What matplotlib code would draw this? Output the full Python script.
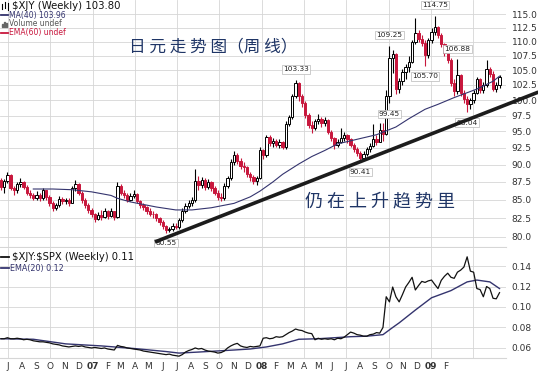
import matplotlib
matplotlib.use("Agg")
import matplotlib.pyplot as plt
import matplotlib.dates as mdates
from matplotlib.lines import Line2D
from matplotlib.patches import Rectangle
from matplotlib.ticker import FixedLocator, FixedFormatter, NullLocator
import numpy as np
import pandas as pd

# weekly $XJY bars, first bar ends on this Friday
first_week = "2006-06-16"
first_open = 87.8
closes = [
    86.8, 87.6, 88.5, 86.6, 86.4, 87.2, 87.5, 86.8, 86.0, 85.6,
    85.3, 85.6, 85.2, 86.3, 85.4, 84.6, 83.9, 84.3, 85.1, 84.8,
    85.0, 84.6, 86.6, 87.2, 86.0, 85.0, 84.3, 83.6, 83.0, 82.4,
    82.9, 82.7, 83.5, 82.8, 83.4, 82.6, 86.9, 86.0, 85.7, 85.0,
    85.5, 85.8, 84.8, 84.3, 84.0, 83.5, 83.1, 83.0, 82.5, 82.0,
    81.4, 80.9, 81.0, 81.5, 81.3, 82.2, 83.5, 84.2, 84.6, 85.0,
    87.6, 87.0, 87.8, 86.8, 87.5, 86.6, 86.0, 85.4, 85.2, 86.9,
    88.0, 90.4, 91.5, 90.6, 89.8, 89.6, 88.6, 88.2, 87.6, 88.0,
    92.2, 91.4, 94.2, 93.2, 93.6, 93.0, 93.4, 92.7, 96.2, 97.2,
    100.6, 102.8, 100.6, 99.5, 97.6, 96.0, 95.6, 96.6, 97.0, 96.3,
    96.8, 94.9, 94.0, 92.9, 93.4, 94.0, 94.4, 93.8, 93.0, 92.4,
    91.8, 91.0, 91.6, 92.3, 92.8, 93.9, 93.4, 95.3, 94.6, 100.6,
    107.0, 107.8, 101.8, 103.2, 104.6, 105.6, 106.4, 109.9, 111.5, 110.4,
    109.8, 107.6, 110.2, 111.8, 112.6, 111.2, 109.6, 108.0, 106.8, 102.8,
    101.4, 104.2, 101.2, 100.2, 99.4, 100.0, 101.2, 103.4, 101.6, 102.4,
    105.2, 104.4, 101.8, 102.4, 103.8,
]
highs = [
    88.0, 87.9, 89.0, 88.6, 86.9, 87.5, 88.1, 87.6, 87.0, 86.4,
    85.9, 86.2, 85.9, 86.7, 86.4, 85.6, 84.8, 84.6, 85.5, 85.4,
    85.3, 85.2, 86.9, 87.8, 87.3, 86.2, 85.2, 84.5, 83.9, 83.2,
    83.3, 83.6, 83.9, 83.6, 83.8, 83.5, 87.5, 87.2, 86.4, 85.9,
    85.9, 86.3, 85.9, 85.0, 84.6, 84.2, 83.8, 83.4, 83.2, 82.7,
    82.2, 81.6, 81.3, 81.8, 81.9, 82.5, 83.8, 84.6, 85.0, 85.4,
    89.3, 88.3, 88.2, 88.0, 87.9, 87.6, 86.9, 86.3, 85.9, 87.3,
    88.4, 90.8, 92.0, 91.8, 91.0, 90.4, 89.8, 89.0, 88.5, 88.3,
    92.6, 92.4, 94.5, 94.4, 94.0, 93.9, 93.8, 93.6, 96.6, 97.6,
    101.0, 103.33, 102.9, 101.0, 99.8, 97.9, 96.6, 97.0, 97.8, 97.3,
    97.2, 96.9, 95.2, 94.2, 93.8, 95.5, 94.9, 94.6, 94.0, 93.2,
    92.6, 92.0, 92.0, 92.7, 93.3, 96.2, 94.4, 96.3, 96.4, 101.6,
    109.25, 108.5, 108.0, 103.6, 105.2, 106.0, 107.5, 110.2, 114.3, 112.0,
    111.2, 110.2, 110.6, 112.4, 114.75, 112.8, 111.5, 109.8, 108.2, 107.0,
    103.4, 106.88, 104.4, 101.6, 100.6, 100.4, 101.6, 103.8, 103.6, 102.9,
    106.7, 105.5, 104.8, 102.9, 104.2,
]
lows = [
    86.3, 86.0, 87.3, 86.3, 85.6, 85.9, 86.8, 86.5, 85.6, 85.2,
    84.9, 85.0, 84.8, 84.9, 85.0, 84.2, 83.5, 83.6, 84.0, 84.4,
    84.4, 84.2, 84.5, 86.2, 85.7, 84.6, 83.9, 83.2, 82.6, 82.0,
    82.2, 82.3, 82.5, 82.4, 82.6, 82.2, 82.5, 85.6, 85.2, 84.7,
    84.8, 85.2, 84.5, 83.9, 83.6, 83.1, 82.8, 82.5, 82.1, 81.6,
    81.0, 80.55, 80.6, 80.8, 81.0, 81.1, 82.0, 83.2, 83.8, 84.2,
    84.7, 86.4, 86.6, 86.4, 86.5, 86.2, 85.6, 85.0, 84.8, 85.0,
    86.6, 87.8, 90.0, 90.1, 89.3, 88.9, 88.2, 87.7, 87.2, 87.1,
    87.9, 90.9, 91.2, 92.8, 92.7, 92.6, 92.5, 92.3, 92.4, 95.8,
    97.0, 100.3, 99.8, 98.9, 97.1, 95.5, 94.8, 95.2, 96.2, 95.7,
    95.9, 94.6, 93.5, 92.4, 92.6, 93.2, 93.6, 93.3, 92.6, 91.9,
    91.3, 90.41, 90.8, 91.3, 91.9, 92.6, 93.0, 93.4, 93.6, 94.4,
    99.45, 104.5, 101.0, 101.2, 102.5, 103.5, 104.6, 106.2, 109.5, 110.0,
    109.2, 105.70, 107.0, 109.8, 111.2, 110.6, 109.0, 107.4, 106.2, 102.3,
    100.6, 101.0, 100.6, 99.5, 98.04, 98.6, 99.5, 101.0, 101.2, 101.2,
    102.2, 103.8, 101.4, 101.3, 102.0,
]

# 40 week moving average, read at these bars
ma40_bars = [10, 16, 22, 28, 34, 36, 40, 48, 54, 59, 65, 72, 77, 80, 84, 87, 92,
             96, 100, 104, 110, 116, 122, 126, 131, 135, 140, 147, 152, 154]
ma40 = [86.5, 86.5, 86.4, 86.1, 85.6, 85.2, 84.7, 84.0, 83.6, 83.6, 83.9, 84.5,
        85.4, 86.2, 87.5, 88.6, 90.1, 91.2, 92.1, 93.1, 93.8, 94.5, 95.7, 97.0,
        98.5, 99.3, 100.4, 101.8, 103.1, 103.96]

# $XJY:$SPX weekly ratio
ratio = [
    0.069, 0.069, 0.070, 0.069, 0.069, 0.0695, 0.069, 0.068, 0.0685, 0.068,
    0.067, 0.0665, 0.066, 0.066, 0.0655, 0.065, 0.064, 0.0635, 0.063, 0.062,
    0.0615, 0.061, 0.0615, 0.062, 0.0615, 0.062, 0.061, 0.0605, 0.060, 0.0605,
    0.060, 0.0595, 0.060, 0.059, 0.0585, 0.058, 0.0625, 0.0615, 0.061, 0.060,
    0.0595, 0.059, 0.0585, 0.058, 0.057, 0.0565, 0.056, 0.0555, 0.055, 0.0545,
    0.054, 0.0535, 0.054, 0.053, 0.0525, 0.052, 0.0535, 0.056, 0.0575, 0.0585,
    0.060, 0.059, 0.0595, 0.058, 0.057, 0.0565, 0.056, 0.055, 0.0555, 0.057,
    0.060, 0.062, 0.0635, 0.0645, 0.062, 0.061, 0.0605, 0.0615, 0.061, 0.0615,
    0.062, 0.0695, 0.070, 0.069, 0.0695, 0.071, 0.0705, 0.071, 0.073, 0.075,
    0.0765, 0.0785, 0.0775, 0.077, 0.0755, 0.0745, 0.074, 0.068, 0.0695, 0.0685,
    0.069, 0.0685, 0.069, 0.068, 0.0695, 0.069, 0.0705, 0.073, 0.0755, 0.0745,
    0.073, 0.0725, 0.0715, 0.0715, 0.073, 0.0735, 0.075, 0.0745, 0.080, 0.110,
    0.105, 0.1195, 0.110, 0.105, 0.112, 0.1195, 0.124, 0.129, 0.1166, 0.121,
    0.125, 0.124, 0.1255, 0.1263, 0.122, 0.118, 0.126, 0.130, 0.133, 0.129,
    0.128, 0.134, 0.136, 0.139, 0.149, 0.135, 0.134, 0.118, 0.117, 0.110,
    0.120, 0.118, 0.1085, 0.108, 0.114,
]
ema20_bars = [0, 10, 20, 31, 41, 51, 55, 61, 72, 77, 82, 87, 92, 98, 108, 113,
              118, 121, 123, 128, 133, 139, 144, 147, 151, 154]
ema20 = [0.069, 0.0685, 0.064, 0.062, 0.0595, 0.0565, 0.055, 0.056, 0.058, 0.059,
         0.061, 0.064, 0.0685, 0.069, 0.071, 0.0715, 0.073, 0.080, 0.0845, 0.097,
         0.109, 0.116, 0.1245, 0.1263, 0.1245, 0.118]

# annotated swing points
swing_bars = [51, 91, 111, 120, 120, 131, 134, 141, 144]
swing_kinds = ["low", "high", "low", "high", "low", "low", "high", "high", "low"]

# hand drawn support line
trend_dates = ["2007-05-15", "2009-08-21"]
trend_prices = [79.35, 101.3]

price_ticks = [80.0, 82.5, 85.0, 87.5, 90.0, 92.5, 95.0, 97.5, 100.0,
               102.5, 105.0, 107.5, 110.0, 112.5, 115.0]
ratio_ticks = [0.06, 0.08, 0.10, 0.12, 0.14]
month_labels = ["J", "A", "S", "O", "N", "D",
                "07", "F", "M", "A", "M", "J", "J", "A", "S", "O", "N", "D",
                "08", "F", "M", "A", "M", "J", "J", "A", "S", "O", "N", "D",
                "09", "F"]

plt.rcParams["font.family"] = ["DejaVu Sans", "Noto Sans CJK SC"]

W, H = 538, 374
red = "#c8173d"
navy = "#34346e"
grid_c = "#d6d6d6"
txt_c = "#333333"

fig = plt.figure(figsize=(W / 100, H / 100), dpi=100)


def px_box(x0, y0, x1, y1):
    return [x0 / W, 1 - y1 / H, (x1 - x0) / W, (y1 - y0) / H]


def fx(x):
    return x / W


def fy(y):
    return 1 - y / H


ax = fig.add_axes(px_box(0, 0, 506, 247))
ax2 = fig.add_axes(px_box(0, 248, 506, 358))

dates = pd.date_range(first_week, periods=len(closes), freq="7D")
xs = mdates.date2num(dates.to_pydatetime())
opens = np.array([first_open] + closes[:-1])
c = np.array(closes)
up = c >= opens
x_lo = mdates.date2num(pd.Timestamp("2006-06-14"))
x_hi = mdates.date2num(pd.Timestamp("2009-06-12"))

# ---- price panel
ax.set_yscale("log")
ax.vlines(xs, lows, highs, colors=np.where(up, "black", red), lw=0.8, zorder=3)
ax.bar(xs, np.abs(c - opens), bottom=np.minimum(c, opens), width=5.0,
       color=np.where(up, "white", red), edgecolor=np.where(up, "black", red),
       lw=0.7, zorder=4)
ax.plot(xs[ma40_bars], ma40, color=navy, lw=0.8, zorder=5)

for i, kind in zip(swing_bars, swing_kinds):
    val = highs[i] if kind == "high" else lows[i]
    dy = 7.5 if kind == "high" else -7.5
    ax.annotate(f"{val:.2f}", (xs[i], val), xytext=(0, dy), textcoords="offset points",
                ha="center", va="center", fontsize=5.3, color="#222222",
                bbox=dict(boxstyle="square,pad=0.15", fc="white", ec="#b8b8b8", lw=0.5),
                zorder=6, annotation_clip=False)

tx = mdates.date2num(pd.to_datetime(trend_dates).to_pydatetime())
ax.plot(tx, trend_prices, color="#1c1c1c", lw=2.6, solid_capstyle="butt",
        clip_on=False, zorder=7)

ax.set_xlim(x_lo, x_hi)
ax.set_ylim(78.7, 117.7)
ax.yaxis.tick_right()
ax.yaxis.set_major_locator(FixedLocator(price_ticks))
ax.yaxis.set_major_formatter(FixedFormatter([f"{t:.1f}" for t in price_ticks]))
ax.yaxis.set_minor_locator(NullLocator())
ax.tick_params(axis="y", length=0, pad=4, labelsize=6.5, labelcolor=txt_c)
ax.set_xticks([])
ax.grid(axis="y", color=grid_c, lw=0.6, zorder=0)

# ---- ratio panel
ax2.plot(xs, ratio, color="#111111", lw=0.9, zorder=4)
ax2.plot(xs[ema20_bars], ema20, color=navy, lw=1.0, zorder=3)
ax2.set_xlim(x_lo, x_hi)
ax2.set_ylim(0.0502, 0.1576)
ax2.yaxis.tick_right()
ax2.set_yticks(ratio_ticks)
ax2.set_yticklabels([f"{t:.2f}" for t in ratio_ticks])
ax2.tick_params(axis="y", length=0, pad=4, labelsize=6.5, labelcolor=txt_c)
ax2.grid(axis="y", color=grid_c, lw=0.6, zorder=0)

months = pd.date_range("2006-07-01", "2009-06-01", freq="MS")
ax2.set_xticks(mdates.date2num(months.to_pydatetime()))
ax2.set_xticklabels(month_labels + [""] * (len(months) - len(month_labels)))
ax2.tick_params(axis="x", length=0, pad=3, labelsize=6.5, labelcolor=txt_c)
for lab in ax2.get_xticklabels():
    if lab.get_text().isdigit():
        lab.set_fontweight("bold")

quarters = pd.date_range("2006-07-01", "2009-04-01", freq="QS-JAN")
for a in (ax, ax2):
    for q in mdates.date2num(quarters.to_pydatetime()):
        a.axvline(q, color=grid_c, lw=0.6, zorder=0)
    for s in ("top", "left", "right"):
        a.spines[s].set_visible(False)
    a.spines["bottom"].set_color(grid_c)
    a.set_facecolor("white")

# ---- legends
fig.add_artist(Line2D([fx(2), fx(2)], [fy(4), fy(9)], color="black", lw=0.8, transform=fig.transFigure))
fig.add_artist(Line2D([fx(5), fx(5)], [fy(2), fy(8)], color="black", lw=0.8, transform=fig.transFigure))
fig.add_artist(Line2D([fx(8), fx(8)], [fy(3), fy(10)], color="black", lw=0.8, transform=fig.transFigure))
fig.text(fx(12), fy(6), rf"\$XJY (Weekly) {closes[-1]:.2f}", fontsize=7.3, color="#111111", va="center")

fig.add_artist(Line2D([fx(1), fx(8)], [fy(15), fy(15)], color=navy, lw=1.3, transform=fig.transFigure))
fig.text(fx(9), fy(15.5), f"MA(40) {ma40[-1]:.2f}", fontsize=5.5, color=navy, va="center")

for bx, bh in zip([1.5, 3.5, 5.5], [3, 5, 4]):
    fig.add_artist(Rectangle((fx(bx), fy(27)), 1.4 / W, bh / H, color="#666666",
                             transform=fig.transFigure))
fig.text(fx(9), fy(24), "Volume undef", fontsize=5.5, color="#555555", va="center")

fig.add_artist(Line2D([fx(1), fx(8)], [fy(33), fy(33)], color=red, lw=1.3, transform=fig.transFigure))
fig.text(fx(9), fy(33), "EMA(60) undef", fontsize=5.5, color=red, va="center")

fig.add_artist(Line2D([fx(1), fx(9)], [fy(257), fy(257)], color="#111111", lw=1.3, transform=fig.transFigure))
fig.text(fx(12), fy(257), rf"\$XJY:\$SPX (Weekly) {ratio[-1]:.2f}", fontsize=7.2, color="#111111", va="center")
fig.add_artist(Line2D([fx(1), fx(9)], [fy(268), fy(268)], color=navy, lw=1.3, transform=fig.transFigure))
fig.text(fx(10), fy(268), f"EMA(20) {ema20[-1]:.2f}", fontsize=5.8, color=navy, va="center")

# ---- chinese captions
fig.text(fx(213), fy(47), "日 元 走 势 图（周 线）", fontsize=12, color="#1f3566",
         ha="center", va="center", family=["Noto Sans CJK SC"])
fig.text(fx(380), fy(201), "仍 在 上 升 趋 势 里", fontsize=13, color="#1f3566",
         ha="center", va="center", family=["Noto Sans CJK SC"])

fig.savefig("out.png", dpi=100)
